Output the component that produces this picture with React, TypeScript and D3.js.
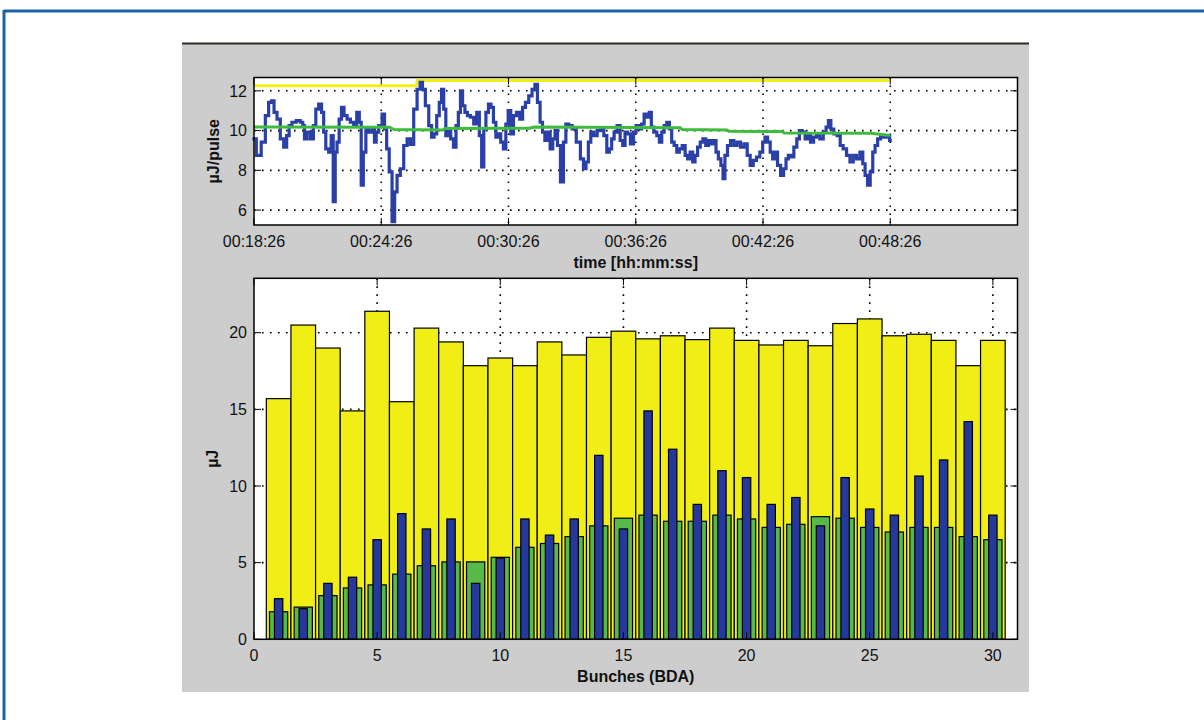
import React from 'react';
import * as d3 from 'd3';

// ---------- DATA ----------
const timeTickLabels = ['00:18:26', '00:24:26', '00:30:26', '00:36:26', '00:42:26', '00:48:26'];
const timeTickMinutes = [0, 6, 12, 18, 24, 30];
const pulseTicks = [6, 8, 10, 12];

// [minutes after 00:18:26, µJ/pulse]
const pulseSeries: [number, number][] = [
  [0, 9.58], [0.22, 8.75], [0.46, 9.42], [0.61, 10.75], [0.77, 11.42], [0.88, 11.5], [1.01, 10.92], [1.16, 10.58],
  [1.32, 9.58], [1.48, 9.17], [1.6, 9.75], [1.71, 10.25], [1.87, 10.42], [2.11, 10.5], [2.26, 10.42], [2.34, 10.25],
  [2.42, 9.58], [2.58, 9.92], [2.74, 9.58], [2.86, 10.25], [2.97, 11.08], [3.13, 11.33], [3.24, 10.92], [3.33, 9.92],
  [3.44, 9.08], [3.6, 8.92], [3.68, 9.75], [3.79, 6.42], [3.87, 8.92], [3.96, 9.42], [4.07, 10.58], [4.18, 11.17],
  [4.31, 10.75], [4.47, 10.58], [4.62, 10.42], [4.78, 10.25], [4.91, 10.92], [5.02, 10.42], [5.09, 7.25], [5.22, 8.92],
  [5.33, 10.08], [5.49, 9.92], [5.64, 10.08], [5.72, 9.42], [5.8, 9.92], [5.96, 10.25], [6.12, 10.83], [6.19, 10.08],
  [6.32, 9.08], [6.43, 7.92], [6.59, 5.42], [6.67, 6.92], [6.82, 7.75], [6.98, 8.08], [7.14, 9.25], [7.3, 9.58],
  [7.45, 9.3], [7.61, 11.08], [7.77, 12.08], [7.89, 12.42], [8.0, 12.08], [8.16, 11.25], [8.32, 10.25], [8.43, 9.67],
  [8.55, 9.83], [8.68, 10.75], [8.79, 11.42], [8.9, 12.08], [8.99, 11.08], [9.1, 9.75], [9.21, 10.0], [9.34, 9.58],
  [9.47, 9.17], [9.58, 10.25], [9.69, 10.92], [9.78, 12.0], [9.89, 11.25], [10.0, 10.92], [10.13, 10.75], [10.28, 10.67],
  [10.44, 10.33], [10.57, 10.92], [10.68, 9.75], [10.79, 8.17], [10.88, 10.08], [10.99, 10.92], [11.12, 11.33], [11.23, 11.17],
  [11.35, 10.42], [11.46, 9.67], [11.57, 9.83], [11.7, 9.42], [11.82, 9.08], [11.93, 10.33], [12.04, 11.0], [12.17, 9.83],
  [12.3, 10.75], [12.45, 10.92], [12.61, 10.58], [12.72, 11.17], [12.88, 11.42], [13.03, 11.75], [13.19, 12.08], [13.3, 12.33],
  [13.43, 11.42], [13.55, 10.42], [13.66, 9.92], [13.77, 9.5], [13.9, 9.92], [14.03, 9.08], [14.14, 9.58], [14.25, 10.0],
  [14.37, 9.25], [14.53, 7.42], [14.65, 9.42], [14.76, 10.33], [14.92, 10.25], [15.08, 10.08], [15.31, 9.42], [15.47, 8.58],
  [15.6, 8.08], [15.71, 8.42], [15.82, 9.42], [15.94, 9.92], [16.1, 9.75], [16.26, 10.0], [16.42, 10.08], [16.57, 9.75],
  [16.7, 8.92], [16.81, 9.08], [16.92, 9.58], [17.04, 9.92], [17.2, 10.25], [17.33, 9.5], [17.44, 9.25], [17.55, 9.92],
  [17.67, 9.83], [17.83, 9.33], [17.96, 9.92], [18.07, 10.25], [18.22, 10.08], [18.33, 10.33], [18.46, 10.83], [18.58, 10.67],
  [18.7, 10.92], [18.77, 10.17], [18.93, 9.92], [19.06, 9.75], [19.17, 9.42], [19.28, 9.92], [19.4, 10.25], [19.53, 10.42],
  [19.64, 10.08], [19.75, 9.42], [19.87, 9.25], [20.0, 8.92], [20.11, 9.08], [20.27, 9.25], [20.39, 8.75], [20.5, 8.58],
  [20.63, 8.92], [20.74, 8.42], [20.85, 8.75], [20.98, 9.17], [21.1, 9.42], [21.23, 9.58], [21.37, 9.25], [21.48, 9.5],
  [21.6, 9.33], [21.73, 9.5], [21.84, 8.92], [21.95, 8.58], [22.08, 8.25], [22.15, 7.58], [22.26, 8.75], [22.39, 9.25],
  [22.55, 9.5], [22.7, 9.25], [22.86, 9.42], [23.02, 9.17], [23.18, 9.33], [23.33, 8.75], [23.46, 8.25], [23.62, 8.5],
  [23.77, 8.67], [23.93, 8.92], [24.04, 9.42], [24.15, 9.67], [24.28, 9.42], [24.4, 8.92], [24.51, 8.58], [24.62, 8.92],
  [24.75, 8.25], [24.91, 7.75], [25.03, 8.08], [25.14, 8.58], [25.25, 8.75], [25.38, 8.67], [25.53, 9.17], [25.66, 9.58],
  [25.77, 10.0], [25.93, 9.92], [26.04, 9.58], [26.16, 9.75], [26.32, 9.42], [26.45, 9.67], [26.6, 9.83], [26.76, 9.58],
  [26.92, 9.92], [27.03, 10.17], [27.14, 10.5], [27.26, 10.08], [27.42, 9.83], [27.58, 9.75], [27.7, 9.25], [27.86, 9.08],
  [28.02, 8.75], [28.18, 8.42], [28.33, 8.75], [28.49, 8.58], [28.65, 8.92], [28.76, 8.33], [28.87, 7.75], [28.99, 7.25],
  [29.12, 7.92], [29.23, 8.92], [29.34, 9.25], [29.47, 9.58], [29.62, 9.75], [29.78, 9.67], [29.94, 9.75], [30.0, 9.5],
];

// running average (green) and maximum (yellow) traces
const averageSeries: [number, number][] = [
  [0, 10.18], [6.4, 10.17], [6.6, 10.05], [8.9, 10.03], [9.0, 10.1], [13.0, 10.12], [13.2, 10.18],
  [20.1, 10.14], [20.2, 10.05], [22.3, 10.03], [22.4, 9.96], [24.9, 9.95], [25.0, 9.88], [29.1, 9.86], [30.0, 9.75],
];
const maximumSeries: [number, number][] = [
  [0, 12.25], [7.65, 12.25], [7.7, 12.52], [30.0, 12.52],
];

const bunchIds = [1, 2, 3, 4, 5, 6, 7, 8, 9, 10, 11, 12, 13, 14, 15, 16, 17, 18, 19, 20, 21, 22, 23, 24, 25, 26, 27, 28, 29, 30];
const yellowValues = [15.7, 20.5, 19.0, 14.9, 21.4, 15.5, 20.3, 19.4, 17.85, 18.35, 17.85, 19.4, 18.55, 19.7, 20.1,
  19.6, 19.8, 19.55, 20.3, 19.5, 19.2, 19.5, 19.15, 20.6, 20.9, 19.8, 19.9, 19.5, 17.85, 19.5];
const greenValues = [1.8, 2.1, 2.85, 3.35, 3.55, 4.25, 4.8, 5.05, 5.05, 5.35, 6.0, 6.25, 6.7, 7.4, 7.9,
  8.1, 7.7, 7.7, 8.1, 7.85, 7.3, 7.5, 8.0, 7.9, 7.3, 7.0, 7.3, 7.3, 6.7, 6.5];
const blueValues = [2.65, 2.0, 3.65, 4.05, 6.5, 8.2, 7.2, 7.85, 3.65, 5.3, 7.85, 6.8, 7.85, 12.0, 7.2,
  14.9, 12.4, 8.8, 11.0, 10.55, 8.8, 9.25, 7.4, 10.55, 8.5, 8.1, 10.65, 11.7, 14.2, 8.1];
const bunchTicks = [0, 5, 10, 15, 20, 25, 30];
const energyTicks = [0, 5, 10, 15, 20];

// ---------- STYLE ----------
const FONT = '"Liberation Sans", Arial, Helvetica, sans-serif';
const GRAY = '#cdcdcd';
const YELLOW = '#f1ee16';
const GREEN_BAR = '#57ba48';
const GREEN_LINE = '#3dbb3d';
const BLUE_BAR = '#25399d';
const BLUE_LINE = '#2a40a8';
const TICK = 7;

export default function App() {
  // top plot geometry
  const t = { left: 254, right: 1017.5, top: 77.5, bottom: 225 };
  const xT = d3.scaleLinear().domain([0, 36]).range([t.left, t.right]);
  const yT = d3.scaleLinear().domain([5.25, 12.67]).range([t.bottom, t.top]);
  const lineT = d3.line<[number, number]>().x(d => xT(d[0])).y(d => yT(d[1]));
  const stepT = d3.line<[number, number]>().x(d => xT(d[0])).y(d => yT(d[1])).curve(d3.curveStep);

  // bottom plot geometry
  const b = { left: 254, right: 1017.5, top: 278.3, bottom: 639.3 };
  const xB = d3.scaleLinear().domain([0, 31]).range([b.left, b.right]);
  const yB = d3.scaleLinear().domain([0, 23.55]).range([b.bottom, b.top]);

  const dotted = { stroke: '#000', strokeWidth: 1.6, strokeDasharray: '1.6 6.4' };

  const bar = (key: string, i: number, v: number, half: number, fill: string) => (
    <rect key={key} x={xB(bunchIds[i] - half)} y={yB(v)} width={xB(bunchIds[i] + half) - xB(bunchIds[i] - half)}
      height={yB(0) - yB(v)} fill={fill} stroke="#000" strokeWidth={1.2} />
  );

  return (
    <svg width={1204} height={720} style={{ position: 'absolute', left: 0, top: 0 }} fontFamily={FONT}>
      <rect x={0} y={0} width={1204} height={720} fill="#fff" />
      {/* blue frame */}
      <line x1={4} y1={11} x2={1204} y2={11} stroke="#1d62a9" strokeWidth={3} />
      <line x1={4} y1={10} x2={4} y2={720} stroke="#1d62a9" strokeWidth={3} />

      {/* gray panel */}
      <rect x={182} y={43} width={847} height={649} fill={GRAY} />
      <line x1={182} y1={43.5} x2={1029} y2={43.5} stroke="#2b2b25" strokeWidth={2} />

      {/* ================= TOP PLOT ================= */}
      <rect x={t.left} y={t.top} width={t.right - t.left} height={t.bottom - t.top} fill="#fff" />
      {pulseTicks.map(v => (
        <line key={'hg' + v} x1={t.left} x2={t.right} y1={yT(v)} y2={yT(v)} {...dotted} />
      ))}
      {timeTickMinutes.slice(1).map(m => (
        <line key={'vg' + m} x1={xT(m)} x2={xT(m)} y1={t.top} y2={t.bottom} {...dotted} />
      ))}
      <path d={lineT(maximumSeries) || ''} fill="none" stroke={YELLOW} strokeWidth={3} />
      <path d={stepT(pulseSeries) || ''} fill="none" stroke={BLUE_LINE} strokeWidth={3.2} strokeLinejoin="miter" strokeLinecap="square" />
      <path d={lineT(averageSeries) || ''} fill="none" stroke={GREEN_LINE} strokeWidth={3} />
      {/* ticks */}
      {pulseTicks.map(v => (
        <g key={'yt' + v}>
          <line x1={t.left} x2={t.left + TICK} y1={yT(v)} y2={yT(v)} stroke="#000" />
          <line x1={t.right} x2={t.right - TICK} y1={yT(v)} y2={yT(v)} stroke="#000" />
          <text x={t.left - 7} y={yT(v)} dy="0.36em" textAnchor="end" fontSize={16} fill="#111">{v}</text>
        </g>
      ))}
      {timeTickMinutes.map((m, i) => (
        <g key={'xt' + m}>
          <line x1={xT(m)} x2={xT(m)} y1={t.bottom} y2={t.bottom - TICK} stroke="#000" />
          <line x1={xT(m)} x2={xT(m)} y1={t.top} y2={t.top + TICK} stroke="#000" />
          <text x={xT(m)} y={t.bottom + 22} textAnchor="middle" fontSize={16} fill="#111">{timeTickLabels[i]}</text>
        </g>
      ))}
      <rect x={t.left} y={t.top} width={t.right - t.left} height={t.bottom - t.top} fill="none" stroke="#000" strokeWidth={1.5} />
      <text x={(t.left + t.right) / 2} y={268} textAnchor="middle" fontSize={16} fontWeight="bold" fill="#111">time [hh:mm:ss]</text>
      <text transform={`translate(213,${(t.top + t.bottom) / 2}) rotate(-90)`} textAnchor="middle" dy="0.35em"
        fontSize={16} fontWeight="bold" fill="#111">µJ/pulse</text>

      {/* ================= BOTTOM PLOT ================= */}
      <rect x={b.left} y={b.top} width={b.right - b.left} height={b.bottom - b.top} fill="#fff" />
      {energyTicks.slice(1).map(v => (
        <line key={'bhg' + v} x1={b.left} x2={b.right} y1={yB(v)} y2={yB(v)} {...dotted} />
      ))}
      {bunchTicks.slice(1).map(v => (
        <line key={'bvg' + v} x1={xB(v)} x2={xB(v)} y1={b.top} y2={b.bottom} {...dotted} />
      ))}
      {yellowValues.map((v, i) => bar('y' + i, i, v, 0.5, YELLOW))}
      {greenValues.map((v, i) => bar('g' + i, i, v, 0.37, GREEN_BAR))}
      {blueValues.map((v, i) => bar('b' + i, i, v, 0.17, BLUE_BAR))}
      {energyTicks.map(v => (
        <g key={'byt' + v}>
          <line x1={b.left} x2={b.left + TICK} y1={yB(v)} y2={yB(v)} stroke="#000" />
          <line x1={b.right} x2={b.right - TICK} y1={yB(v)} y2={yB(v)} stroke="#000" />
          <text x={b.left - 7} y={yB(v)} dy="0.36em" textAnchor="end" fontSize={16} fill="#111">{v}</text>
        </g>
      ))}
      {bunchTicks.map(v => (
        <g key={'bxt' + v}>
          <line x1={xB(v)} x2={xB(v)} y1={b.bottom} y2={b.bottom - TICK} stroke="#000" />
          <line x1={xB(v)} x2={xB(v)} y1={b.top} y2={b.top + TICK} stroke="#000" />
          <text x={xB(v)} y={b.bottom + 22} textAnchor="middle" fontSize={16} fill="#111">{v}</text>
        </g>
      ))}
      <rect x={b.left} y={b.top} width={b.right - b.left} height={b.bottom - b.top} fill="none" stroke="#000" strokeWidth={1.5} />
      <text x={(b.left + b.right) / 2} y={682} textAnchor="middle" fontSize={16} fontWeight="bold" fill="#111">Bunches (BDA)</text>
      <text transform={`translate(212,${(b.top + b.bottom) / 2}) rotate(-90)`} textAnchor="middle" dy="0.35em"
        fontSize={16} fontWeight="bold" fill="#111">µJ</text>
    </svg>
  );
}
